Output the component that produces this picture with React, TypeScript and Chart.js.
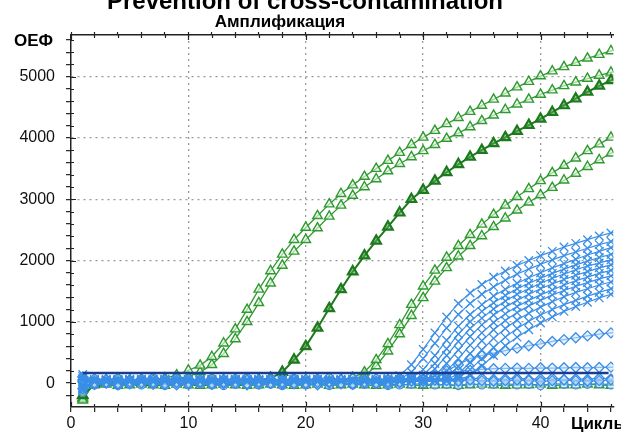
import React, { useEffect, useRef } from 'react';
import { Chart, registerables } from 'chart.js';

Chart.register(...registerables);

// ---- labels ----
const titleText = 'Prevention of cross-contamination';
const subtitleText = 'Амплификация';
const yAxisTitle = 'ОЕФ';
const xAxisTitle = 'Циклы';

// ---- axes ----
const xMajor = [0, 10, 20, 30, 40];
const yMajor = [0, 1000, 2000, 3000, 4000, 5000];
const xMin = 0;
const xMax = 46.2;
const yMin = -390;
const yMax = 5680;

// ---- data ----
const cycles = [
  1, 2, 3, 4, 5, 6, 7, 8, 9, 10,
  11, 12, 13, 14, 15, 16, 17, 18, 19, 20,
  21, 22, 23, 24, 25, 26, 27, 28, 29, 30,
  31, 32, 33, 34, 35, 36, 37, 38, 39, 40,
  41, 42, 43, 44, 45, 46, 47,
];

// green (positive samples, triangles)
const g1 = [
  -280, 20, 40, 30, 50, 40, 60, 80, 130, 210,
  290, 430, 650, 880, 1200, 1530, 1830, 2100, 2340, 2540,
  2730, 2920, 3090, 3230, 3370, 3500, 3630, 3760, 3890, 4010,
  4120, 4230, 4330, 4430, 4530, 4630, 4730, 4830, 4920, 5010,
  5090, 5160, 5230, 5300, 5360, 5420, 5480,
];
const g2 = [
  -250, 10, 30, 40, 20, 50, 40, 50, 70, 110,
  180, 300, 480, 720, 1000, 1310, 1630, 1920, 2150, 2340,
  2530, 2720, 2900, 3060, 3200, 3330, 3460, 3580, 3690, 3790,
  3890, 3990, 4080, 4180, 4280, 4370, 4460, 4550, 4630, 4710,
  4780, 4850, 4910, 4970, 5020, 5070, 5110,
];
const g3 = [
  -200, -10, 20, 10, 30, 20, 10, 30, 20, 30,
  20, 40, 30, 20, 40, 50, 80, 180, 380, 600,
  900, 1220, 1530, 1820, 2080, 2320, 2550, 2780, 3000, 3150,
  3300, 3440, 3570, 3690, 3800, 3910, 4010, 4110, 4210, 4310,
  4420, 4530, 4640, 4750, 4850, 4940, 5020,
];
const g4 = [
  -260, 0, 30, 20, 40, 10, 30, 20, 40, 30,
  10, 30, 20, 40, 30, 20, 30, 40, 20, 30,
  40, 50, 60, 90, 180, 380, 640, 950, 1280, 1580,
  1840, 2050, 2240, 2420, 2590, 2750, 2900, 3040, 3170, 3300,
  3430, 3550, 3670, 3790, 3900, 4010, 4110,
];
const g5 = [
  -240, 10, 20, 40, 30, 20, 40, 30, 20, 40,
  30, 20, 30, 40, 20, 30, 40, 20, 30, 40,
  30, 40, 50, 70, 120, 280, 520, 800, 1100, 1390,
  1660, 1880, 2070, 2240, 2400, 2550, 2690, 2820, 2950, 3070,
  3190, 3310, 3420, 3530, 3640, 3750, 3850,
];
const gNeg = [
  -200, -30, -20, -40, -30, -20, -30, -40, -20, -30,
  -40, -30, -20, -30, -40, -30, -20, -30, -40, -30,
  -20, -40, -30, -20, -30, -40, -30, -20, -30, -40,
  -30, -30, -40, -30, -20, -30, -40, -30, -30, -20,
  -40, -30, -30, -20, -30, -40, -30,
];

// blue (cross markers)
const b1 = [
  -120, 30, 50, 20, 40, 60, 30, 50, 40, 20,
  50, 30, 60, 40, 20, 50, 30, 40, 60, 30,
  50, 40, 30, 60, 50, 40, 70, 120, 300, 550,
  820, 1080, 1300, 1470, 1610, 1730, 1830, 1920, 2000, 2080,
  2150, 2220, 2280, 2340, 2400, 2450, 2500,
];
const b2 = [
  80, 40, 20, 50, 30, 40, 60, 20, 40, 50,
  30, 60, 40, 20, 50, 40, 30, 60, 40, 20,
  50, 30, 40, 60, 30, 50, 40, 60, 180, 400,
  650, 900, 1120, 1300, 1450, 1570, 1680, 1780, 1860, 1940,
  2010, 2080, 2140, 2200, 2260, 2310, 2360,
];
const b3 = [
  -60, 20, 40, 60, 30, 20, 50, 40, 30, 60,
  40, 20, 50, 30, 60, 40, 20, 50, 30, 40,
  60, 20, 50, 40, 30, 60, 40, 30, 80, 220,
  450, 700, 930, 1120, 1280, 1420, 1530, 1630, 1720, 1800,
  1880, 1950, 2020, 2090, 2150, 2210, 2260,
];
const b4 = [
  140, 50, 30, 40, 60, 20, 40, 30, 50, 40,
  20, 50, 30, 40, 60, 30, 50, 20, 40, 60,
  30, 40, 50, 20, 40, 30, 50, 20, 40, 130,
  320, 560, 800, 1000, 1170, 1310, 1430, 1540, 1630, 1710,
  1790, 1860, 1930, 1990, 2050, 2100, 2150,
];
const b5 = [
  -100, 30, 60, 40, 20, 50, 30, 60, 40, 30,
  50, 40, 20, 60, 30, 50, 40, 30, 20, 50,
  40, 60, 30, 50, 20, 40, 30, 50, 40, 80,
  230, 450, 680, 890, 1060, 1210, 1340, 1450, 1540, 1630,
  1710, 1780, 1850, 1910, 1960, 2010, 2060,
];
const b6 = [
  60, 40, 20, 30, 50, 40, 20, 50, 30, 60,
  20, 40, 50, 30, 40, 20, 60, 40, 30, 50,
  20, 40, 60, 30, 50, 40, 20, 40, 30, 50,
  120, 320, 540, 760, 950, 1110, 1240, 1350, 1450, 1540,
  1620, 1690, 1760, 1820, 1880, 1930, 1980,
];
const b7 = [
  -40, 50, 30, 20, 40, 60, 50, 30, 20, 40,
  60, 30, 40, 50, 20, 30, 50, 60, 40, 20,
  30, 50, 40, 20, 60, 30, 40, 50, 20, 40,
  60, 200, 400, 620, 820, 990, 1130, 1250, 1350, 1440,
  1520, 1600, 1670, 1730, 1790, 1840, 1890,
];
const b8 = [
  110, 20, 40, 50, 30, 40, 20, 60, 50, 30,
  40, 20, 30, 60, 40, 50, 20, 30, 50, 40,
  60, 30, 20, 40, 50, 30, 60, 40, 30, 50,
  40, 100, 270, 480, 690, 870, 1020, 1150, 1260, 1350,
  1440, 1510, 1580, 1640, 1700, 1750, 1800,
];
const b9 = [
  -80, 40, 50, 30, 60, 20, 40, 30, 60, 50,
  30, 40, 60, 20, 30, 40, 50, 20, 60, 30,
  40, 20, 50, 30, 40, 60, 20, 50, 40, 30,
  50, 60, 150, 340, 540, 730, 890, 1030, 1140, 1240,
  1330, 1410, 1480, 1540, 1600, 1650, 1700,
];
const b10 = [
  30, 30, 20, 50, 40, 30, 60, 40, 20, 50,
  40, 60, 30, 50, 40, 20, 40, 50, 30, 60,
  20, 50, 40, 60, 30, 20, 50, 30, 60, 40,
  30, 50, 80, 220, 400, 580, 750, 890, 1010, 1110,
  1200, 1280, 1350, 1420, 1480, 1540, 1590,
];
const b11 = [
  -20, 60, 40, 30, 20, 50, 40, 20, 30, 60,
  50, 30, 20, 40, 50, 60, 30, 40, 20, 50,
  60, 30, 40, 20, 50, 40, 30, 60, 50, 20,
  40, 30, 60, 120, 280, 450, 610, 750, 870, 980,
  1080, 1170, 1250, 1320, 1390, 1450, 1500,
];
// blue (diamond / circle markers)
const b12 = [
  50, 0, 10, -10, 20, 0, 10, -20, 10, 0,
  20, -10, 10, 0, -10, 20, 0, 10, -10, 0,
  10, 20, 0, -10, 10, 0, 20, 10, 30, 60,
  120, 200, 300, 400, 450, 490, 530, 570, 610, 640,
  680, 710, 740, 770, 800, 820, 840,
];
const f1 = [
  -90, -20, 0, -30, -10, 10, -20, 0, -30, -10,
  0, -20, -10, 10, -30, -10, 0, -20, 10, -10,
  -30, 0, -10, -20, 10, 0, -10, 20, 40, 70,
  110, 150, 190, 210, 225, 235, 240, 245, 240, 250,
  245, 250, 255, 250, 255, 260, 255,
];
const f2 = [
  100, 30, 50, 20, 40, 30, 50, 20, 40, 30,
  50, 20, 40, 30, 50, 20, 40, 30, 50, 20,
  40, 30, 50, 20, 40, 30, 50, 30, 40, 30,
  50, 40, 30, 50, 40, 30, 40, 50, 40, 30,
  40, 50, 40, 30, 40, 50, 40,
];
const f3 = [
  -150, -30, -10, -40, -20, -30, -10, -40, -20, -30,
  -10, -30, -40, -20, -10, -30, -20, -40, -10, -30,
  -20, -40, -10, -30, -20, -10, -40, -30, -20, -10,
  -30, -20, -40, -10, -30, -20, -10, -30, -20, -40,
  -10, -20, -30, -20, -10, -30, -20,
];
const f4 = [
  20, 70, 60, 80, 50, 70, 90, 60, 80, 70,
  50, 80, 60, 70, 90, 60, 70, 50, 80, 60,
  70, 90, 60, 80, 50, 70, 60, 80, 70, 60,
  80, 70, 60, 70, 80, 60, 70, 80, 60, 70,
  80, 60, 70, 60, 80, 70, 60,
];

// threshold
const thresholdCycles = [1, 45.8];
const thresholdValues = [165, 165];

// ---- styles ----
const FONT = "'Liberation Sans', Arial, sans-serif";
const GREEN = '#2f9a2f';
const DARK_GREEN = '#1c7a1c';
const BLUE = '#3a8ee6';
const NAVY = '#1a3c8c';

const toPts = (vals: number[]) => vals.map((v, i) => ({ x: cycles[i], y: v }));

const blueCross = (vals: number[]) => ({
  data: toPts(vals),
  borderColor: BLUE,
  borderWidth: 1.2,
  pointStyle: 'crossRot',
  pointRadius: 6,
  pointBorderWidth: 1.3,
  pointBorderColor: BLUE,
  pointBackgroundColor: BLUE,
});
const blueDiamond = (vals: number[]) => ({
  data: toPts(vals),
  borderColor: BLUE,
  borderWidth: 1.2,
  pointStyle: 'rectRot',
  pointRadius: 5,
  pointBorderWidth: 1.3,
  pointBorderColor: BLUE,
  pointBackgroundColor: 'rgba(210,230,252,0.5)',
});
const blueCircle = (vals: number[]) => ({
  data: toPts(vals),
  borderColor: BLUE,
  borderWidth: 1.2,
  pointStyle: 'circle',
  pointRadius: 4,
  pointBorderWidth: 1.3,
  pointBorderColor: BLUE,
  pointBackgroundColor: 'rgba(210,230,252,0.5)',
});
const greenTri = (vals: number[], dark = false) => ({
  data: toPts(vals),
  borderColor: dark ? DARK_GREEN : GREEN,
  borderWidth: dark ? 2 : 1.3,
  pointStyle: 'triangle',
  pointRadius: dark ? 5.5 : 5.5,
  pointBorderWidth: dark ? 2.2 : 1.4,
  pointBorderColor: dark ? DARK_GREEN : GREEN,
  pointBackgroundColor: dark ? 'rgba(90,170,90,0.55)' : 'rgba(235,250,235,0.6)',
});

const majorTickSet = (arr: number[]) => (v: number) => arr.indexOf(v) >= 0;
const isXMajor = majorTickSet(xMajor);
const isYMajor = majorTickSet(yMajor);

const xTickValues: number[] = [];
for (let v = 0; v <= 46; v += 2) xTickValues.push(v);
const yTickValues: number[] = [];
for (let v = -200; v <= 5600; v += 200) yTickValues.push(v);

const overlay = {
  id: 'overlay',
  beforeDatasetsDraw(chart: any) {
    const { ctx, chartArea } = chart;
    const x = chart.scales.x;
    const y = chart.scales.y;
    ctx.save();
    ctx.strokeStyle = '#222';
    ctx.lineWidth = 1.2;
    ctx.beginPath();
    for (const t of x.ticks) {
      const px = Math.round(x.getPixelForValue(t.value)) + 0.5;
      const len = isXMajor(t.value) ? 5 : 3;
      ctx.moveTo(px, chartArea.bottom);
      ctx.lineTo(px, chartArea.bottom - len);
      ctx.moveTo(px, chartArea.top);
      ctx.lineTo(px, chartArea.top + len);
    }
    for (const t of y.ticks) {
      const py = Math.round(y.getPixelForValue(t.value)) + 0.5;
      const len = isYMajor(t.value) ? 5 : 3;
      ctx.moveTo(chartArea.left, py);
      ctx.lineTo(chartArea.left + len, py);
    }
    ctx.stroke();
    ctx.restore();
  },
  afterDraw(chart: any) {
    const { ctx } = chart;
    ctx.save();
    ctx.fillStyle = '#000';
    ctx.textBaseline = 'alphabetic';
    ctx.textAlign = 'center';
    ctx.font = `bold 24px ${FONT}`;
    ctx.fillText(titleText, 305, 9);
    ctx.font = `bold 17px ${FONT}`;
    ctx.fillText(subtitleText, 280, 27);
    ctx.textAlign = 'left';
    ctx.font = `bold 17px ${FONT}`;
    ctx.fillText(yAxisTitle, 14, 46);
    ctx.font = `bold 17px ${FONT}`;
    ctx.fillText(xAxisTitle, 571, 429);
    ctx.restore();
  },
};

export default function App() {
  const ref = useRef<HTMLCanvasElement>(null);
  useEffect(() => {
    const canvas = ref.current;
    if (!canvas) return;
    const datasets: any[] = [
      {
        data: thresholdCycles.map((c, i) => ({ x: c, y: thresholdValues[i] })),
        borderColor: NAVY,
        borderWidth: 2.5,
        pointRadius: 0,
      },
      blueCross(b1), blueCross(b2), blueCross(b3), blueCross(b4), blueCross(b5),
      blueCross(b6), blueCross(b7), blueCross(b8), blueCross(b9), blueCross(b10),
      blueCross(b11),
      blueDiamond(b12), blueDiamond(f1), blueDiamond(f2), blueCircle(f3), blueDiamond(f4),
      greenTri(g3, true), greenTri(g1), greenTri(g2), greenTri(g4), greenTri(g5), greenTri(gNeg),
    ];
    const chart = new Chart(canvas, {
      type: 'line',
      data: { datasets },
      plugins: [overlay],
      options: {
        responsive: false,
        animation: false,
        devicePixelRatio: 1,
        layout: { padding: { top: 35, left: 0, right: 0, bottom: 0 } },
        elements: { line: { tension: 0 } },
        plugins: {
          legend: { display: false },
          title: { display: false },
          tooltip: { enabled: false },
        },
        scales: {
          x: {
            type: 'linear',
            position: 'bottom',
            min: xMin,
            max: xMax,
            afterBuildTicks: (s: any) => {
              s.ticks = xTickValues.map((v) => ({ value: v }));
            },
            afterFit: (s: any) => {
              s.height = 28;
            },
            ticks: {
              autoSkip: false,
              maxRotation: 0,
              padding: 2,
              color: '#111',
              font: { family: FONT, size: 16 },
              callback: (v: any) => (isXMajor(Number(v)) ? String(v) : ''),
            },
            grid: {
              color: (c: any) =>
                c.tick && isXMajor(c.tick.value) && c.tick.value !== 0 ? '#9a9a9a' : 'rgba(0,0,0,0)',
              lineWidth: 1.3,
              tickColor: '#222',
              tickLength: 5,
              tickWidth: 1.2,
            },
            border: { color: '#222', width: 1.5, dash: [2, 4] },
          },
          xTop: {
            type: 'linear',
            position: 'top',
            min: xMin,
            max: xMax,
            afterBuildTicks: (s: any) => {
              s.ticks = xTickValues.map((v) => ({ value: v }));
            },
            afterFit: (s: any) => {
              s.height = 0;
            },
            ticks: { display: false },
            grid: {
              drawOnChartArea: false,
              tickColor: '#222',
              tickLength: 3,
              tickWidth: 1.2,
            },
            border: { color: '#222', width: 1.5 },
          },
          y: {
            type: 'linear',
            min: yMin,
            max: yMax,
            afterBuildTicks: (s: any) => {
              s.ticks = yTickValues.map((v) => ({ value: v }));
            },
            afterFit: (s: any) => {
              s.width = 71;
            },
            ticks: {
              autoSkip: false,
              padding: 11,
              color: '#111',
              font: { family: FONT, size: 16 },
              callback: (v: any) => (isYMajor(Number(v)) ? String(v) : ''),
            },
            grid: {
              color: (c: any) =>
                c.tick && isYMajor(c.tick.value) && c.tick.value !== 0 ? '#9a9a9a' : 'rgba(0,0,0,0)',
              lineWidth: 1.3,
              tickColor: '#222',
              tickLength: 5,
              tickWidth: 1.2,
            },
            border: { color: '#222', width: 1.5, dash: [2, 4] },
          },
        },
      } as any,
    });
    return () => chart.destroy();
  }, []);
  return (
    <div style={{ position: 'absolute', left: 0, top: 0, width: 621, height: 435, background: '#fff', overflow: 'hidden' }}>
      <canvas ref={ref} width={621} height={435} style={{ display: 'block', width: 621, height: 435 }} />
    </div>
  );
}
